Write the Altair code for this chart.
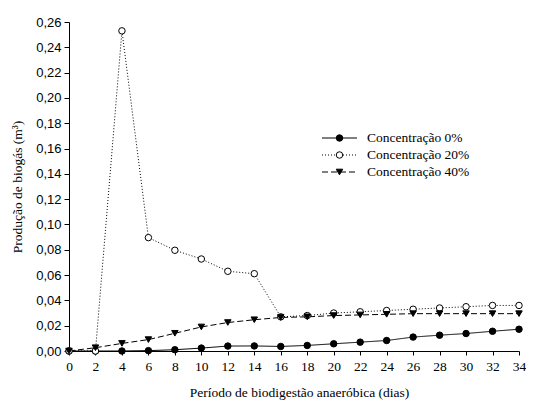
import altair as alt
import pandas as pd

days = list(range(0, 35, 2))
series_names = ["Concentração 0%", "Concentração 20%", "Concentração 40%"]
c0 = [0.000, 0.000, 0.000, 0.0003, 0.001, 0.0023, 0.0039, 0.004, 0.0036, 0.0044,
      0.0057, 0.007, 0.0083, 0.011, 0.0125, 0.0138, 0.0156, 0.0172]
c20 = [0.000, 0.000, 0.253, 0.0896, 0.0796, 0.0727, 0.063, 0.0611, 0.027, 0.028,
       0.030, 0.031, 0.032, 0.033, 0.034, 0.035, 0.036, 0.036]
c40 = [0.000, 0.0026, 0.006, 0.009, 0.014, 0.019, 0.0225, 0.0247, 0.0265, 0.027,
       0.028, 0.0285, 0.029, 0.0295, 0.0295, 0.0295, 0.0295, 0.0295]
y_ticks = [round(i * 0.02, 2) for i in range(14)]

rows = []
for name, vals in zip(series_names, [c0, c20, c40]):
    for d, v in zip(days, vals):
        rows.append({"dia": d, "valor": v, "serie": name})
df = pd.DataFrame(rows)

SERIF = "Liberation Serif"
SANS = "Liberation Sans"

x_enc = alt.X("dia:Q", scale=alt.Scale(domain=[0, 34], nice=False, zero=False),
              axis=alt.Axis(values=days, title="Período de biodigestão anaeróbica (dias)",
                            labelFont=SERIF, labelFontSize=13.5, titleFont=SERIF,
                            titleFontSize=13.5, titleFontWeight="normal", tickSize=4,
                            labelPadding=4, titleX=230, titleY=41, titleBaseline="middle",
                            labelOverlap=False, labelFlush=False,
                            grid=False, domainColor="black", tickColor="black",
                            labelColor="black", titleColor="black"))
y_enc = alt.Y("valor:Q", scale=alt.Scale(domain=[0, 0.26], nice=False),
              axis=alt.Axis(values=y_ticks, title="Produção de biogás (m³)",
                            labelExpr="replace(format(datum.value, '.2f'), '.', ',')",
                            labelFont=SANS, labelFontSize=13, titleFont=SERIF,
                            titleFontSize=13.5, titleFontWeight="normal", tickSize=5,
                            labelPadding=3, titleX=-52, titleY=164.5, titleAngle=-90,
                            titleBaseline="middle", labelOverlap=False, labelFlush=False,
                            grid=False, domainColor="black",
                            tickColor="black", labelColor="black", titleColor="black"))

base = alt.Chart(df)
lines = base.mark_line(color="black", strokeWidth=1).encode(
    x=x_enc, y=y_enc,
    strokeDash=alt.StrokeDash("serie:N", scale=alt.Scale(domain=series_names,
                              range=[[1, 0], [1, 2], [6, 3]]), legend=None),
    detail="serie:N",
)
points = base.mark_point(size=42, stroke="black", strokeWidth=1, opacity=1).encode(
    x=x_enc, y=y_enc,
    shape=alt.Shape("serie:N", scale=alt.Scale(domain=series_names,
                    range=["circle", "circle", "triangle-down"]), legend=None),
    fill=alt.Fill("serie:N", scale=alt.Scale(domain=series_names,
                  range=["black", "white", "black"]), legend=None),
)

legend_layers = []
leg_y = [116, 133, 150]
leg_dash = [[1, 0], [1, 2], [6, 3]]
leg_shape = ["circle", "circle", "triangle-down"]
leg_fill = ["black", "white", "black"]
for i, name in enumerate(series_names):
    ld = pd.DataFrame({"label": [name]})
    lb = alt.Chart(ld)
    legend_layers.append(lb.mark_rule(color="black", strokeWidth=1, strokeDash=leg_dash[i]).encode(
        x=alt.value(253), x2=alt.value(288), y=alt.value(leg_y[i])))
    legend_layers.append(lb.mark_point(size=42, stroke="black", strokeWidth=1, opacity=1,
                                       shape=leg_shape[i], fill=leg_fill[i]).encode(
        x=alt.value(270.5), y=alt.value(leg_y[i])))
    legend_layers.append(lb.mark_text(font=SERIF, fontSize=13.5, align="left",
                                      baseline="middle", color="black").encode(
        x=alt.value(298), y=alt.value(leg_y[i]), text="label:N"))

chart = alt.layer(lines, points, *legend_layers).properties(
    width=450, height=329,
    autosize=alt.AutoSizeParams(type="none"),
    padding={"left": 61, "top": 14, "right": 7, "bottom": 52},
).configure_view(stroke=None).configure_axis(labelOverlap=False)

chart.save("out.html", embed_options={"renderer": "svg", "actions": False})
